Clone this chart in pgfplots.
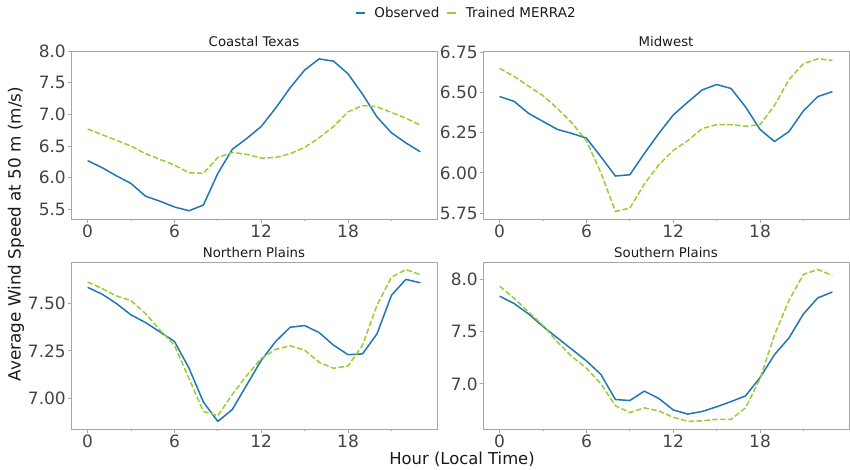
\documentclass[border=0pt]{standalone}
\usepackage{pgfplots}
\usepackage{pgfplotstable}
\pgfplotsset{compat=1.18}
\usepackage{fontspec}
\setmainfont{DejaVu Sans}

\definecolor{obsblue}{HTML}{1F77B4}
\definecolor{mgreen}{HTML}{9ACD32}
\definecolor{ticktext}{HTML}{444444}
\definecolor{spine}{HTML}{A6A6A6}
\definecolor{labeltext}{HTML}{1A1A1A}

% hourly means: hour, observed, trained MERRA2
\pgfplotstableread{
h obs trn
0 6.27 6.77
1 6.16 6.68
2 6.03 6.59
3 5.91 6.50
4 5.71 6.38
5 5.63 6.29
6 5.54 6.20
7 5.48 6.08
8 5.57 6.07
9 6.07 6.32
10 6.45 6.40
11 6.62 6.37
12 6.81 6.31
13 7.10 6.32
14 7.42 6.38
15 7.70 6.48
16 7.875 6.63
17 7.84 6.81
18 7.64 7.04
19 7.32 7.14
20 6.96 7.12
21 6.71 7.03
22 6.55 6.94
23 6.41 6.83
}\coastal

\pgfplotstableread{
h obs trn
0 6.475 6.65
1 6.445 6.60
2 6.37 6.54
3 6.32 6.48
4 6.27 6.40
5 6.245 6.31
6 6.216 6.20
7 6.10 6.00
8 5.98 5.76
9 5.988 5.78
10 6.12 5.93
11 6.245 6.05
12 6.36 6.14
13 6.44 6.20
14 6.516 6.276
15 6.55 6.30
16 6.525 6.30
17 6.41 6.29
18 6.27 6.30
19 6.195 6.42
20 6.257 6.58
21 6.386 6.68
22 6.475 6.71
23 6.505 6.70
}\midwest

\pgfplotstableread{
h obs trn
0 7.586 7.614
1 7.55 7.58
2 7.50 7.54
3 7.44 7.516
4 7.40 7.447
5 7.35 7.36
6 7.30 7.28
7 7.16 7.105
8 6.98 6.93
9 6.877 6.907
10 6.94 7.02
11 7.07 7.12
12 7.20 7.21
13 7.30 7.258
14 7.375 7.277
15 7.384 7.254
16 7.347 7.19
17 7.28 7.158
18 7.23 7.17
19 7.234 7.28
20 7.34 7.49
21 7.544 7.64
22 7.628 7.68
23 7.61 7.653
}\northern

\pgfplotstableread{
h obs trn
0 7.84 7.936
1 7.77 7.82
2 7.67 7.69
3 7.55 7.56
4 7.44 7.40
5 7.33 7.26
6 7.22 7.15
7 7.09 7.00
8 6.85 6.79
9 6.84 6.725
10 6.93 6.77
11 6.86 6.74
12 6.75 6.68
13 6.71 6.64
14 6.735 6.645
15 6.78 6.66
16 6.83 6.66
17 6.885 6.77
18 7.06 7.05
19 7.28 7.47
20 7.44 7.80
21 7.67 8.05
22 7.825 8.095
23 7.88 8.04
}\southern

\pgfplotsset{
  panel/.style={
    scale only axis, anchor=south west,
    width=366pt, height=168pt,
    xmin=-1.15, xmax=24.15,
    xtick={0,6,12,18}, minor xtick={3,9,15,21},
    xtick pos=left, ytick pos=left,
    tick align=outside,
    major tick length=3.5pt, minor tick length=2pt,
    axis line style={spine, line width=0.8pt},
    tick style={spine, line width=0.8pt},
    every tick label/.append style={text=ticktext},
    tick label style={font=\fontsize{17}{17}\selectfont},
    xticklabel style={inner sep=0pt, anchor=north, yshift=-2.5pt},
    yticklabel style={inner sep=0pt, anchor=east, xshift=-1.5pt},
    /pgf/number format/assume math mode=true,
    title style={at={(0.5,1)}, anchor=south, inner sep=0pt, yshift=-2pt,
      font=\fontsize{13.3}{13.3}\selectfont, text=labeltext},
    clip=false,
  },
  obs/.style={obsblue, line width=1.5pt, line join=round, no marks},
  trn/.style={mgreen, line width=1.5pt, dash pattern=on 5.5pt off 2.4pt, no marks},
}

\begin{document}
\begin{tikzpicture}
\path[use as bounding box] (0,0) rectangle (850pt,469pt);

% Coastal Texas
\begin{axis}[panel, at={(71pt,250pt)}, title={Coastal Texas},
  ymin=5.35, ymax=8.0, ytick={5.5,6.0,6.5,7.0,7.5,8.0},
  yticklabel style={/pgf/number format/fixed, /pgf/number format/fixed zerofill, /pgf/number format/precision=1},
  legend columns=2,
  legend style={at={(1.08,1.226)}, anchor=center, draw=none, fill=none,
    font=\fontsize{13.5}{13.5}\selectfont, text=labeltext,
    /tikz/every odd column/.append style={column sep=7pt},
    /tikz/every even column/.append style={column sep=5pt}},
  legend image code/.code={\draw[#1, solid] (0pt,0pt) -- (9pt,0pt);},
  ]
\addplot[obs] table[x=h, y=obs] {\coastal};
\addlegendentry{Observed}
\addplot[trn] table[x=h, y=trn] {\coastal};
\addlegendentry{Trained MERRA2}
\end{axis}

% Midwest
\begin{axis}[panel, at={(483pt,250pt)}, title={Midwest},
  ymin=5.7125, ymax=6.7585, ytick={5.75,6.00,6.25,6.50,6.75},
  yticklabel style={/pgf/number format/fixed, /pgf/number format/fixed zerofill, /pgf/number format/precision=2},
  ]
\addplot[obs] table[x=h, y=obs] {\midwest};
\addplot[trn] table[x=h, y=trn] {\midwest};
\end{axis}

% Northern Plains
\begin{axis}[panel, at={(71pt,40pt)}, height=167pt, title={Northern Plains},
  ymin=6.837, ymax=7.72, ytick={7.00,7.25,7.50},
  yticklabel style={/pgf/number format/fixed, /pgf/number format/fixed zerofill, /pgf/number format/precision=2},
  ]
\addplot[obs] table[x=h, y=obs] {\northern};
\addplot[trn] table[x=h, y=trn] {\northern};
\end{axis}

% Southern Plains
\begin{axis}[panel, at={(483pt,40pt)}, height=167pt, title={Southern Plains},
  ymin=6.567, ymax=8.168, ytick={7.0,7.5,8.0},
  yticklabel style={/pgf/number format/fixed, /pgf/number format/fixed zerofill, /pgf/number format/precision=1},
  ]
\addplot[obs] table[x=h, y=obs] {\southern};
\addplot[trn] table[x=h, y=trn] {\southern};
\end{axis}

% shared axis labels
\node[rotate=90, text=labeltext, font=\fontsize{16.8}{16.8}\selectfont] at (16pt,235pt) {Average Wind Speed at 50 m (m/s)};
\node[text=labeltext, font=\fontsize{16.4}{16.4}\selectfont] at (462pt,10pt) {Hour (Local Time)};
\end{tikzpicture}
\end{document}
